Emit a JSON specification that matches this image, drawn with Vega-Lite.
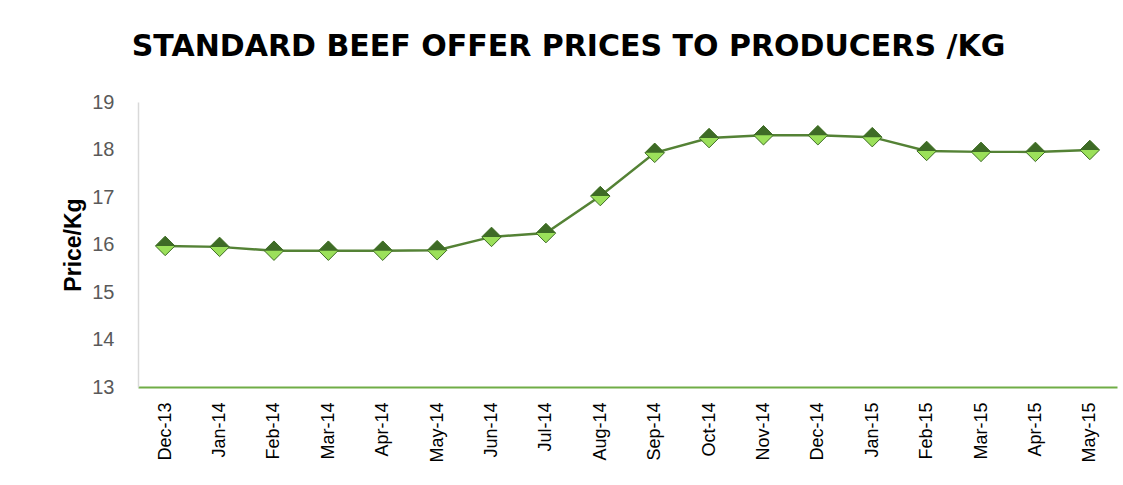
{
  "$schema": "https://vega.github.io/schema/vega-lite/v6.json",
  "width": 979,
  "height": 285,
  "autosize": {"type": "none"},
  "padding": {"left": 138, "top": 102, "right": 6, "bottom": 98},
  "background": "white",
  "title": {
    "text": "STANDARD BEEF OFFER PRICES TO PRODUCERS /KG",
    "font": "DejaVu Sans",
    "fontSize": 30,
    "fontWeight": "bold",
    "color": "#000000",
    "anchor": "middle",
    "dx": -59,
    "offset": 30
  },
  "data": {
    "values": [
      {"month": "Dec-13", "price": 15.97},
      {"month": "Jan-14", "price": 15.95},
      {"month": "Feb-14", "price": 15.87},
      {"month": "Mar-14", "price": 15.87},
      {"month": "Apr-14", "price": 15.87},
      {"month": "May-14", "price": 15.88},
      {"month": "Jun-14", "price": 16.16},
      {"month": "Jul-14", "price": 16.24},
      {"month": "Aug-14", "price": 17.02},
      {"month": "Sep-14", "price": 17.93},
      {"month": "Oct-14", "price": 18.24},
      {"month": "Nov-14", "price": 18.30},
      {"month": "Dec-14", "price": 18.30},
      {"month": "Jan-15", "price": 18.26},
      {"month": "Feb-15", "price": 17.97},
      {"month": "Mar-15", "price": 17.95},
      {"month": "Apr-15", "price": 17.95},
      {"month": "May-15", "price": 17.99}
    ]
  },
  "encoding": {
    "x": {
      "field": "month",
      "type": "ordinal",
      "sort": null,
      "scale": {"paddingInner": 0, "paddingOuter": 0.5},
      "axis": {
        "title": null,
        "labelAngle": -90,
        "labelFont": "Liberation Sans",
        "labelFontSize": 18,
        "labelColor": "#000000",
        "labelPadding": 15,
        "ticks": false,
        "domainColor": "#70AD47",
        "domainWidth": 2,
        "grid": false
      }
    },
    "y": {
      "field": "price",
      "type": "quantitative",
      "scale": {"domain": [13, 19], "nice": false, "zero": false},
      "axis": {
        "title": "Price/Kg",
        "titleFont": "Liberation Sans",
        "titleFontSize": 23,
        "titleFontWeight": "bold",
        "titleColor": "#000000",
        "titlePadding": 6,
        "values": [13, 14, 15, 16, 17, 18, 19],
        "labelFont": "Liberation Sans",
        "labelFontSize": 20,
        "labelColor": "#595959",
        "labelPadding": 24,
        "ticks": false,
        "domainColor": "#D9D9D9",
        "domainWidth": 1.5,
        "grid": false
      }
    }
  },
  "layer": [
    {"mark": {"type": "line", "color": "#548235", "strokeWidth": 2.5}},
    {"mark": {"type": "point", "shape": "diamond", "filled": true, "size": 380, "color": "#9BE05A", "opacity": 1, "stroke": "#3E6B26", "strokeWidth": 1}},
    {"mark": {"type": "point", "shape": "M-1,0L0,-1L1,0Z", "filled": true, "size": 380, "color": "#3E6B26", "opacity": 1}}
  ],
  "config": {"view": {"stroke": null}}
}
